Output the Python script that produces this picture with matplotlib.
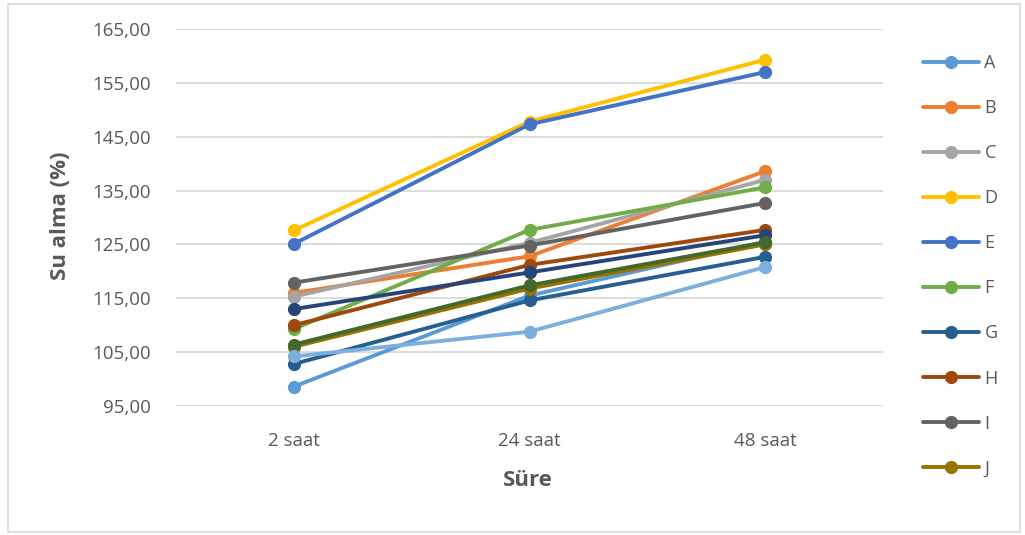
import matplotlib
matplotlib.use("Agg")
import matplotlib.pyplot as plt
from matplotlib.patches import Rectangle
from matplotlib.ticker import FuncFormatter

# Water uptake (%) at three soaking durations
durations = ["2 saat", "24 saat", "48 saat"]
series_names = ["A", "B", "C", "D", "E", "F", "G", "H", "I", "J", "K", "L", "M"]
A = [98.6, 115.5, 125.5]
B = [116.0, 122.8, 138.6]
C = [115.3, 125.3, 137.0]
D = [127.6, 147.8, 159.3]
E = [125.1, 147.3, 157.0]
F = [109.3, 127.7, 135.6]
G = [102.8, 114.6, 122.7]
H = [110.0, 121.2, 127.7]
I = [117.9, 124.8, 132.7]
J = [106.0, 116.8, 125.0]
K = [113.0, 119.8, 126.7]
L = [106.4, 117.4, 125.4]
M = [104.2, 108.8, 120.8]
values = [A, B, C, D, E, F, G, H, I, J, K, L, M]
colors = ["#5B9BD5", "#ED7D31", "#A5A5A5", "#FFC000", "#4472C4", "#70AD47",
          "#255E91", "#9E480E", "#636363", "#997300", "#264478", "#43682B",
          "#7CAFDD"]
y_ticks = [95, 105, 115, 125, 135, 145, 155, 165]
legend_count = 10

W, H_PX = 1025, 535
fig = plt.figure(figsize=(W / 100, H_PX / 100), dpi=100)
plt.rcParams["font.family"] = ["Open Sans", "DejaVu Sans"]
text_grey = "#595959"

# outer chart border
fig.patches.append(Rectangle((8 / W, 3 / H_PX), 1012 / W, 528 / H_PX,
                             transform=fig.transFigure, fill=False,
                             edgecolor="#D9D9D9", linewidth=1.2))

ax = fig.add_axes([176 / W, (H_PX - 406) / H_PX, 707 / W, 377 / H_PX])
x = list(range(len(durations)))
handles = []
for name, vals, col in zip(series_names, values, colors):
    h, = ax.plot(x, vals, color=col, linewidth=2.8, marker="o",
                 markersize=8.5, solid_capstyle="round", label=name)
    handles.append(h)

ax.set_xlim(-0.5, len(durations) - 0.5)
ax.set_ylim(y_ticks[0], y_ticks[-1])
ax.set_yticks(y_ticks)
ax.yaxis.set_major_formatter(FuncFormatter(lambda v, p: f"{v:.2f}".replace(".", ",")))
ax.set_xticks(x)
ax.set_xticklabels(durations)
ax.tick_params(axis="both", length=0, labelsize=13.5, colors=text_grey)
ax.tick_params(axis="y", pad=18)
ax.tick_params(axis="x", pad=19)
for s in ax.spines.values():
    s.set_visible(False)
ax.grid(axis="y", color="#D9D9D9", linewidth=1.3)
ax.set_axisbelow(True)
for h in handles:
    h.set_clip_on(False)

fig.text(60 / W, 1 - 216 / H_PX, "Su alma (%)", rotation=90, ha="center",
         va="center", fontsize=16, fontweight="bold", color=text_grey)
fig.text(528 / W, 1 - 480 / H_PX, "Süre", ha="center", va="center",
         fontsize=16, fontweight="bold", color=text_grey)

leg = fig.legend(handles[:legend_count], series_names[:legend_count],
                 loc="upper left", bbox_to_anchor=(923 / W, 1 - 54 / H_PX),
                 frameon=False, fontsize=13, labelcolor=text_grey,
                 handlelength=3.1, handletextpad=0.3, labelspacing=1.50,
                 borderpad=0, borderaxespad=0)

fig.savefig("out.png", dpi=100)
